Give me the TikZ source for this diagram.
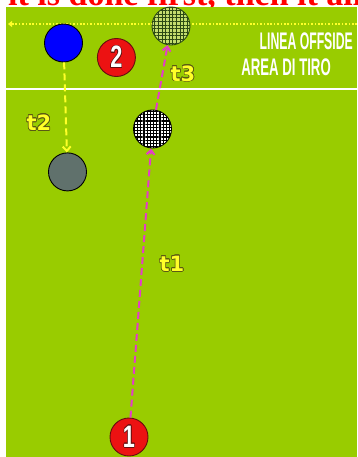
\documentclass[tikz,border=0pt]{standalone}
\usepackage{fontspec}
\setmainfont{Liberation Serif}
\setsansfont{Liberation Sans}
\newfontfamily\etichetta{DejaVu Sans}
\usepackage{xcolor}
\usepackage{contour}
\contourlength{0.7pt}
\usepackage{tikz}
\usetikzlibrary{arrows.meta, positioning, patterns.meta}

\definecolor{campo}{RGB}{153,204,0}
\definecolor{fucsia}{RGB}{228,60,200}
\definecolor{giallo}{RGB}{255,255,40}
\definecolor{grigio}{RGB}{96,113,108}
\definecolor{rosso}{RGB}{236,18,18}
\definecolor{bordo}{RGB}{100,15,15}
\definecolor{verdino}{RGB}{196,222,110}
\definecolor{verdone}{RGB}{45,75,20}
\definecolor{oliva}{RGB}{90,90,20}

\begin{document}
\begin{tikzpicture}[x=1pt, y=-1pt,
        base/.style={
            circle, draw=black, inner sep=0pt, minimum size=38pt, line width=0.9pt
        },
        blu/.style={base, fill=blue},
        grigia/.style={base, fill=grigio},
        numero/.style={base, fill=rosso, draw=bordo, text=white,
            font=\sffamily\bfseries\fontsize{31}{31}\selectfont},
        pallone/.style={base, preaction={fill=white},
            pattern={Hatch[angle=0, distance=3.2pt, line width=1.3pt]}, pattern color=black},
        bersaglio/.style={base, draw=verdone, preaction={fill=verdino},
            pattern={Hatch[angle=0, distance=3.6pt, line width=0.8pt]}, pattern color=verdone},
        tiro/.style={text=giallo, font=\etichetta\bfseries\fontsize{21}{21}\selectfont},
        scritta/.style={text=white, inner sep=0pt, anchor=east,
            font=\sffamily\bfseries\fontsize{24}{24}\selectfont},
        arrow/.style={line width=2pt, dash pattern=on 7pt off 4pt,
            -{Straight Barb[length=4.5pt, width=8pt]}}
    ]

        \useasboundingbox (0,0) rectangle (357,457);
        \clip (0,0) rectangle (357,457);

        % Titolo e campo
        \node[anchor=base west, inner sep=0pt, text=red,
            font=\bfseries\fontsize{34}{34}\selectfont] (titolo) at (8,6) {it is done first, then it all};
        \fill[campo] (6,7.5) rectangle (357,457);
        \draw[giallo, line width=2pt, dash pattern=on 1.6pt off 1.8pt,
            -{Triangle[length=4pt, width=6pt]}] (357,24) -- (8,24);
        \draw[white, line width=2.6pt] (6,89) -- (357,89);

        \node[scritta] (offside) at (353,41.5) {\scalebox{0.51}[1]{LINEA OFFSIDE}};
        \node[scritta] (area) at (331,67.5) {\scalebox{0.55}[1]{AREA DI TIRO}};

        % Giocatori e palloni
        \node[blu] (blu) at (63.5,43) {};
        \node[numero, right=14pt of blu, yshift=-14.5pt] (due) {\scalebox{0.7}[1]{\contour{bordo}{2}}};
        \node[grigia, below=90pt of blu, xshift=4pt] (grigia) {};
        \node[bersaglio] (porta) at (171,26) {};
        \node[pallone] (palla) at (152.5,129) {};
        \node[numero] (uno) at (129,437) {\scalebox{0.7}[1]{\contour{bordo}{1}}};

        % Tiri
        \draw[arrow, giallo] (blu) -- (grigia);
        \draw[arrow, fucsia] (uno) -- (palla);
        \draw[arrow, fucsia] (palla) -- (porta);

        \node[tiro] (t1) at (172,264) {\contour{oliva}{t1}};
        \node[tiro] (t2) at (39,123) {\contour{oliva}{t2}};
        \node[tiro] (t3) at (183,74) {\contour{oliva}{t3}};

    \end{tikzpicture}
\end{document}
